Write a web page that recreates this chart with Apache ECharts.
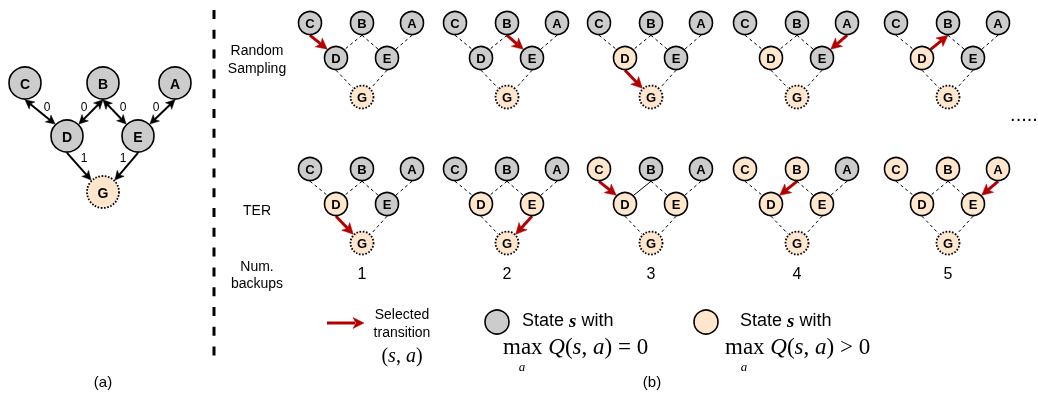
<!DOCTYPE html>
<html><head><meta charset="utf-8">
<script src="https://cdn.jsdelivr.net/npm/echarts@6/dist/echarts.min.js"></script>
<style>html,body{margin:0;padding:0;background:#fff}#c{width:1038px;height:401px;will-change:transform;-webkit-font-smoothing:antialiased}</style>
</head><body><div id="c"></div>
<script>
// ---------------- DATA ----------------
const states = ['C', 'B', 'A', 'D', 'E', 'G'];
const goal = 'G';
const transitions = [['C', 'D'], ['B', 'D'], ['B', 'E'], ['A', 'E'], ['D', 'G'], ['E', 'G']];
const rewards = ['0', '0', '0', '0', '1', '1'];
const rowNames = ['Random\nSampling', 'TER'];
const backupName = 'Num.\nbackups';
const numBackups = ['1', '2', '3', '4', '5'];
const randomSelected = [['C', 'D'], ['B', 'E'], ['D', 'G'], ['A', 'E'], ['D', 'B']];
const randomPositive = [['G'], ['G'], ['D', 'G'], ['D', 'G'], ['D', 'G']];
const terSelected = [['D', 'G'], ['E', 'G'], ['C', 'D'], ['B', 'D'], ['A', 'E']];
const terPositive = [['D', 'G'], ['D', 'E', 'G'], ['C', 'D', 'E', 'G'], ['C', 'B', 'D', 'E', 'G'], ['C', 'B', 'A', 'D', 'E', 'G']];
const terSolid = [[], [], [['B', 'D']], [], []];
const captions = ['(a)', '(b)'];

// ---------------- LAYOUT / STYLE ----------------
const SANS = '"Liberation Sans", Arial, sans-serif';
const SERIF = '"Liberation Serif", "Times New Roman", serif';
const GRAY = '#cccccc', PEACH = '#ffe6cc', RED = '#b20000';
const bigPos = {C: [25, 83], B: [103, 83], A: [175, 83], D: [67, 136], E: [138, 136], G: [103, 192]};
const bigR = 16;
const rewardPos = [[47, 107], [84, 107], [123, 107], [156, 107], [84, 158], [123, 158]];
const smallOff = {C: [-52, 0], B: [0, 0], A: [50, 0], D: [-26, 35], E: [25, 35], G: [0, 74]};
const smallR = 11.5;
const colX = [362, 507, 651, 797, 948];
const rowTop = [23, 169];
const numY = 273;

const nodeData = [];   // {name, value:[x,y,r,positive,isGoal,fontSize]}
const edgeData = [];   // [x1,y1,x2,y2,r1,r2,kind]
const textData = [];   // {name, value:[x,y,fontSize]}

// panel (a)
states.forEach(s => nodeData.push({name: s, value: [...bigPos[s], bigR, s === goal ? 1 : 0, s === goal ? 1 : 0, 14]}));
transitions.forEach(([a, b], i) => {
  edgeData.push([...bigPos[a], ...bigPos[b], bigR, bigR, b === goal ? 4 : 3]);
  textData.push({name: rewards[i], value: [...rewardPos[i], 12]});
});

// panel (b)
const rows = [
  {sel: randomSelected, pos: randomPositive, solid: null},
  {sel: terSelected, pos: terPositive, solid: terSolid}
];
const same = (e, a, b) => (e[0] === a && e[1] === b) || (e[0] === b && e[1] === a);
rows.forEach((row, ri) => colX.forEach((cx, ci) => {
  const P = s => [cx + smallOff[s][0], rowTop[ri] + smallOff[s][1]];
  states.forEach(s => nodeData.push({name: s,
    value: [...P(s), smallR, row.pos[ci].includes(s) ? 1 : 0, s === goal ? 1 : 0, 13]}));
  const sel = row.sel[ci];
  transitions.forEach(([a, b]) => {
    if (same(sel, a, b)) return;
    const solid = row.solid && row.solid[ci].some(e => same(e, a, b));
    edgeData.push([...P(a), ...P(b), smallR, smallR, solid ? 1 : 0]);
  });
  edgeData.push([...P(sel[0]), ...P(sel[1]), smallR, smallR, 2]);
}));
numBackups.forEach((n, i) => textData.push({name: n, value: [colX[i], numY, 16]}));

function arrowHead(tip, ux, uy, len, hw, color) {
  const nx = -uy, ny = ux;
  const bx = tip[0] - ux * len, by = tip[1] - uy * len;
  const nb = [tip[0] - ux * len * 0.75, tip[1] - uy * len * 0.75];
  return {type: 'polygon', shape: {points: [tip, [bx + nx * hw, by + ny * hw], nb, [bx - nx * hw, by - ny * hw]]},
    style: {fill: color, stroke: color, lineWidth: 0.5}};
}

// connection points: upper state at its bottom, lower state at its 45-degree shoulder
function anchors(p1, p2, r1, r2) {
  const up1 = p1[1] < p2[1];
  const U = up1 ? p1 : p2, Lw = up1 ? p2 : p1;
  const ru = (up1 ? r1 : r2) + 0.8, rl = (up1 ? r2 : r1) + 0.8;
  const sg = U[0] < Lw[0] ? -1 : 1;
  const au = [U[0], U[1] + ru];
  const al = [Lw[0] + sg * rl * Math.SQRT1_2, Lw[1] - rl * Math.SQRT1_2];
  return up1 ? [au, al] : [al, au];
}

function renderEdge(params, api) {
  const p1 = api.coord([api.value(0), api.value(1)]);
  const p2 = api.coord([api.value(2), api.value(3)]);
  const r1 = api.value(4), r2 = api.value(5), kind = api.value(6);
  const [s, e] = anchors(p1, p2, r1, r2);
  const dx = e[0] - s[0], dy = e[1] - s[1], L = Math.hypot(dx, dy);
  const ux = dx / L, uy = dy / L;
  const children = [];
  if (kind === 0 || kind === 1) {
    children.push({type: 'line', shape: {x1: s[0], y1: s[1], x2: e[0], y2: e[1]},
      style: {stroke: '#000', lineWidth: 1, lineDash: kind === 0 ? [3, 3] : null}});
  } else if (kind === 2) {
    const len = 11, hw = 5.5;
    const le = [e[0] - ux * len * 0.7, e[1] - uy * len * 0.7];
    children.push({type: 'line', shape: {x1: s[0], y1: s[1], x2: le[0], y2: le[1]},
      style: {stroke: RED, lineWidth: 3}});
    children.push(arrowHead(e, ux, uy, len, hw, RED));
  } else {
    const len = 9, hw = 4.5;
    let a = s, b = [e[0] - ux * len * 0.7, e[1] - uy * len * 0.7];
    if (kind === 3) a = [s[0] + ux * len * 0.7, s[1] + uy * len * 0.7];
    children.push({type: 'line', shape: {x1: a[0], y1: a[1], x2: b[0], y2: b[1]},
      style: {stroke: '#000', lineWidth: 2}});
    children.push(arrowHead(e, ux, uy, len, hw, '#000'));
    if (kind === 3) children.push(arrowHead(s, -ux, -uy, len, hw, '#000'));
  }
  return {type: 'group', children};
}

function renderNode(params, api) {
  const c = api.coord([api.value(0), api.value(1)]);
  const r = api.value(2), positive = api.value(3), isGoal = api.value(4), fs = api.value(5);
  return {type: 'group', children: [
    {type: 'circle', shape: {cx: c[0], cy: c[1], r},
      style: {fill: positive ? PEACH : GRAY, stroke: '#000', lineWidth: isGoal ? 1.8 : 1.6,
        lineDash: isGoal ? [1.6, 1.6] : null}},
    {type: 'text', style: {text: nodeData[params.dataIndex].name, x: c[0], y: c[1] + 0.5,
      align: 'center', textAlign: 'center', verticalAlign: 'middle', textVerticalAlign: 'middle',
      font: 'bold ' + fs + 'px ' + SANS, fill: '#000'}}
  ]};
}

function renderText(params, api) {
  const c = api.coord([api.value(0), api.value(1)]);
  return {type: 'text', style: {text: textData[params.dataIndex].name, x: c[0], y: c[1],
    align: 'center', textAlign: 'center', verticalAlign: 'middle', textVerticalAlign: 'middle',
    font: api.value(2) + 'px ' + SANS, fill: '#000'}};
}

function T(text, x, y, opts) {
  const o = Object.assign({font: '14px ' + SANS, align: 'center', vAlign: 'middle'}, opts || {});
  return {type: 'text', z: 10, style: {text, x, y, font: o.font, fill: '#000',
    align: o.align, textAlign: o.align, verticalAlign: o.vAlign, textVerticalAlign: o.vAlign,
    lineHeight: o.lh || 18, rich: o.rich}};
}

const mathRich = {
  m: {fontFamily: SERIF, fontSize: 23, fontStyle: 'normal', fill: '#000', lineHeight: 20},
  i: {fontFamily: SERIF, fontSize: 23, fontStyle: 'italic', fill: '#000', lineHeight: 20}
};
const stateRich = {
  t: {fontFamily: SANS, fontSize: 18, fill: '#000'},
  s: {fontFamily: SERIF, fontSize: 19, fontStyle: 'italic', fontWeight: 'bold', fill: '#000'}
};
const pairRich = {
  m: {fontFamily: SERIF, fontSize: 20, fill: '#000'},
  i: {fontFamily: SERIF, fontSize: 20, fontStyle: 'italic', fill: '#000'}
};

const graphics = [
  {type: 'line', shape: {x1: 214, y1: 10, x2: 214, y2: 366}, style: {stroke: '#000', lineWidth: 3, lineDash: [9, 10.8]}},
  T(rowNames[0], 257, 59, {lh: 18}),
  T(rowNames[1], 257, 210),
  T(backupName, 257, 274, {lh: 17}),
  T('.....', 1024, 114, {font: '20px ' + SANS}),
  {type: 'line', shape: {x1: 327, y1: 323, x2: 355, y2: 323}, style: {stroke: RED, lineWidth: 3}},
  {type: 'polygon', shape: {points: [[364, 323], [353, 317.5], [356, 323], [353, 328.5]]}, style: {fill: RED, stroke: RED, lineWidth: 0.5}},
  T('Selected\ntransition', 402, 323, {font: '14px ' + SANS, lh: 18}),
  T('{m|(}{i|s}{m|, }{i|a}{m|)}', 402, 355, {font: '20px ' + SERIF, rich: pairRich}),
  {type: 'circle', shape: {cx: 497, cy: 322, r: 12}, style: {fill: GRAY, stroke: '#000', lineWidth: 1.6}},
  T('{t|State }{s|s}{t| with}', 522, 320, {align: 'left', rich: stateRich}),
  T('{m|max }{i|Q}{m|(}{i|s}{m|, }{i|a}{m|) = 0}', 503, 346, {align: 'left', rich: mathRich}),
  T('a', 522, 366, {align: 'center', font: 'italic 13px ' + SERIF, lh: 13}),
  {type: 'circle', shape: {cx: 706, cy: 322, r: 12}, style: {fill: PEACH, stroke: '#000', lineWidth: 1.6}},
  T('{t|State }{s|s}{t| with}', 740, 320, {align: 'left', rich: stateRich}),
  T('{m|max }{i|Q}{m|(}{i|s}{m|, }{i|a}{m|) > 0}', 725, 346, {align: 'left', rich: mathRich}),
  T('a', 744, 366, {align: 'center', font: 'italic 13px ' + SERIF, lh: 13}),
  T(captions[0], 103, 381, {font: '15px ' + SANS}),
  T(captions[1], 652, 381, {font: '15px ' + SANS})
];

const chart = echarts.init(document.getElementById('c'), null, {renderer: 'svg', width: 1038, height: 401});
chart.setOption({
  animation: false,
  grid: {left: 0, right: 0, top: 0, bottom: 0},
  xAxis: {type: 'value', min: 0, max: 1038, show: false},
  yAxis: {type: 'value', min: 0, max: 401, inverse: true, show: false},
  series: [
    {type: 'custom', name: 'edges', renderItem: renderEdge, data: edgeData, z: 2, silent: true,
      encode: {x: [0, 2], y: [1, 3]}},
    {type: 'custom', name: 'states', renderItem: renderNode, data: nodeData, z: 3, silent: true,
      encode: {x: 0, y: 1}},
    {type: 'custom', name: 'texts', renderItem: renderText, data: textData, z: 4, silent: true,
      encode: {x: 0, y: 1}}
  ],
  graphic: graphics
});
</script>
</body></html>
